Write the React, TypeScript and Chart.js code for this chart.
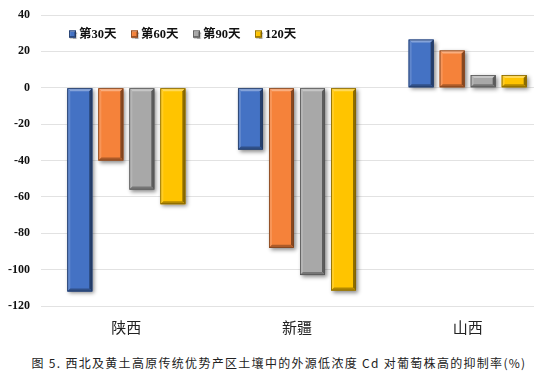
import React, { useEffect, useRef } from "react";
import { Chart, registerables } from "chart.js";

Chart.register(...registerables);

const categories = ["陕西", "新疆", "山西"];
const seriesNames = ["第30天", "第60天", "第90天", "120天"];
const day30 = [-112, -34, 26.5];
const day60 = [-40, -88, 20.5];
const day90 = [-56, -103, 7];
const day120 = [-64, -111.5, 7];
const yTicks = [40, 20, 0, -20, -40, -60, -80, -100, -120];
const caption = "图 5. 西北及黄土高原传统优势产区土壤中的外源低浓度 Cd 对葡萄株高的抑制率(%)";

const colors = ["#4472C4", "#F5823A", "#A8A8A8", "#FFC400"];

function shade(hex: string, amt: number) {
  const n = parseInt(hex.slice(1), 16);
  let r = (n >> 16) & 255, g = (n >> 8) & 255, b = n & 255;
  if (amt >= 0) {
    r = r + (255 - r) * amt; g = g + (255 - g) * amt; b = b + (255 - b) * amt;
  } else {
    r = r * (1 + amt); g = g * (1 + amt); b = b * (1 + amt);
  }
  return `rgb(${Math.round(r)},${Math.round(g)},${Math.round(b)})`;
}

function bevelRect(ctx: CanvasRenderingContext2D, l: number, t: number, r: number, b: number, color: string, s: number) {
  ctx.fillStyle = shade(color, 0.35);
  ctx.beginPath(); ctx.moveTo(l, t); ctx.lineTo(r, t); ctx.lineTo(r - s, t + s); ctx.lineTo(l + s, t + s); ctx.closePath(); ctx.fill();
  ctx.fillStyle = shade(color, 0.15);
  ctx.beginPath(); ctx.moveTo(l, t); ctx.lineTo(l + s, t + s); ctx.lineTo(l + s, b - s); ctx.lineTo(l, b); ctx.closePath(); ctx.fill();
  ctx.fillStyle = shade(color, -0.45);
  ctx.beginPath(); ctx.moveTo(r, t); ctx.lineTo(r, b); ctx.lineTo(r - s, b - s); ctx.lineTo(r - s, t + s); ctx.closePath(); ctx.fill();
  ctx.fillStyle = shade(color, -0.3);
  ctx.beginPath(); ctx.moveTo(l, b); ctx.lineTo(r, b); ctx.lineTo(r - s, b - s); ctx.lineTo(l + s, b - s); ctx.closePath(); ctx.fill();
  ctx.strokeStyle = shade(color, -0.5);
  ctx.lineWidth = 0.8;
  ctx.strokeRect(l + 0.4, t + 0.4, r - l - 0.8, b - t - 0.8);
}

const bevelPlugin = {
  id: "bevel",
  beforeDatasetDraw(chart: any) {
    const ctx = chart.ctx;
    ctx.save();
    ctx.shadowColor = "rgba(0,0,0,0.45)";
    ctx.shadowBlur = 4;
    ctx.shadowOffsetX = 2;
    ctx.shadowOffsetY = 2;
  },
  afterDatasetDraw(chart: any, args: any) {
    const ctx = chart.ctx;
    ctx.restore();
    const meta = chart.getDatasetMeta(args.index);
    const color = colors[args.index];
    meta.data.forEach((bar: any) => {
      const p = bar.getProps(["x", "y", "base", "width"], true);
      const l = p.x - p.width / 2, r = p.x + p.width / 2;
      const t = Math.min(p.y, p.base), b = Math.max(p.y, p.base);
      const s = Math.min(3, (b - t) / 2);
      ctx.save();
      bevelRect(ctx, l, t, r, b, color, s);
      ctx.restore();
    });
  },
  afterDraw(chart: any) {
    const ctx = chart.ctx;
    ctx.save();
    ctx.font = "bold 12.5px 'Liberation Serif', 'Noto Sans CJK SC', serif";
    ctx.textBaseline = "middle";
    const y = 26;
    const x0 = 61;
    const pitch = 62;
    seriesNames.forEach((name, i) => {
      const x = x0 + i * pitch;
      ctx.save();
      ctx.shadowColor = "rgba(0,0,0,0.35)";
      ctx.shadowBlur = 1;
      ctx.shadowOffsetX = 1;
      ctx.shadowOffsetY = 1;
      ctx.fillStyle = colors[i];
      ctx.fillRect(x, y - 3.5, 7, 7);
      ctx.restore();
      bevelRect(ctx, x, y - 3.5, x + 7, y + 3.5, colors[i], 1.5);
      ctx.fillStyle = "#111";
      ctx.textAlign = "left";
      ctx.fillText(name, x + 10, y + 0.5);
    });
    ctx.restore();
  },
};

export default function App() {
  const ref = useRef<HTMLCanvasElement | null>(null);
  useEffect(() => {
    if (!ref.current) return;
    const data = [day30, day60, day90, day120];
    const chart = new Chart(ref.current, {
      type: "bar",
      data: {
        labels: categories,
        datasets: seriesNames.map((n, i) => ({
          label: n,
          data: data[i],
          backgroundColor: colors[i],
          borderWidth: 0,
          categoryPercentage: 0.727,
          barPercentage: 0.806,
        })),
      },
      options: {
        responsive: false,
        animation: false,
        layout: { padding: { top: 7, right: 1, left: 0, bottom: 0 } },
        plugins: {
          legend: { display: false },
          tooltip: { enabled: false },
        },
        scales: {
          x: {
            grid: { display: false, drawTicks: false },
            border: { display: false },
            ticks: {
              color: "#222",
              font: { family: "'Noto Sans CJK SC', serif", size: 15 },
              padding: 12,
            },
            afterFit: (s: any) => { s.height = 42; },
          },
          y: {
            min: -120,
            max: 40,
            afterBuildTicks: (s: any) => { s.ticks = yTicks.map((v) => ({ value: v })); },
            grid: { color: "#e2e2e2", lineWidth: 1, drawTicks: false },
            border: { display: false },
            ticks: {
              color: "#111",
              font: { family: "'Liberation Serif', serif", size: 12, weight: "bold" },
              padding: 11,
            },
            afterFit: (s: any) => {
              s.width = 33;
              s.paddingTop = 0;
            },
          },
        },
      },
      plugins: [bevelPlugin],
    });
    return () => chart.destroy();
  }, []);

  return (
    <div style={{ position: "relative", width: 534, height: 367, overflow: "hidden" }}>
      <canvas ref={ref} width={546} height={340} style={{ display: "block" }} />
      <div
        style={{
          position: "absolute",
          top: 346,
          left: 4,
          width: 534,
          textAlign: "center",
          fontFamily: "'Noto Sans CJK SC', sans-serif",
          fontSize: 12,
          letterSpacing: 1.3,
          color: "#222",
          whiteSpace: "nowrap",
        }}
      >
        {caption}
      </div>
    </div>
  );
}
